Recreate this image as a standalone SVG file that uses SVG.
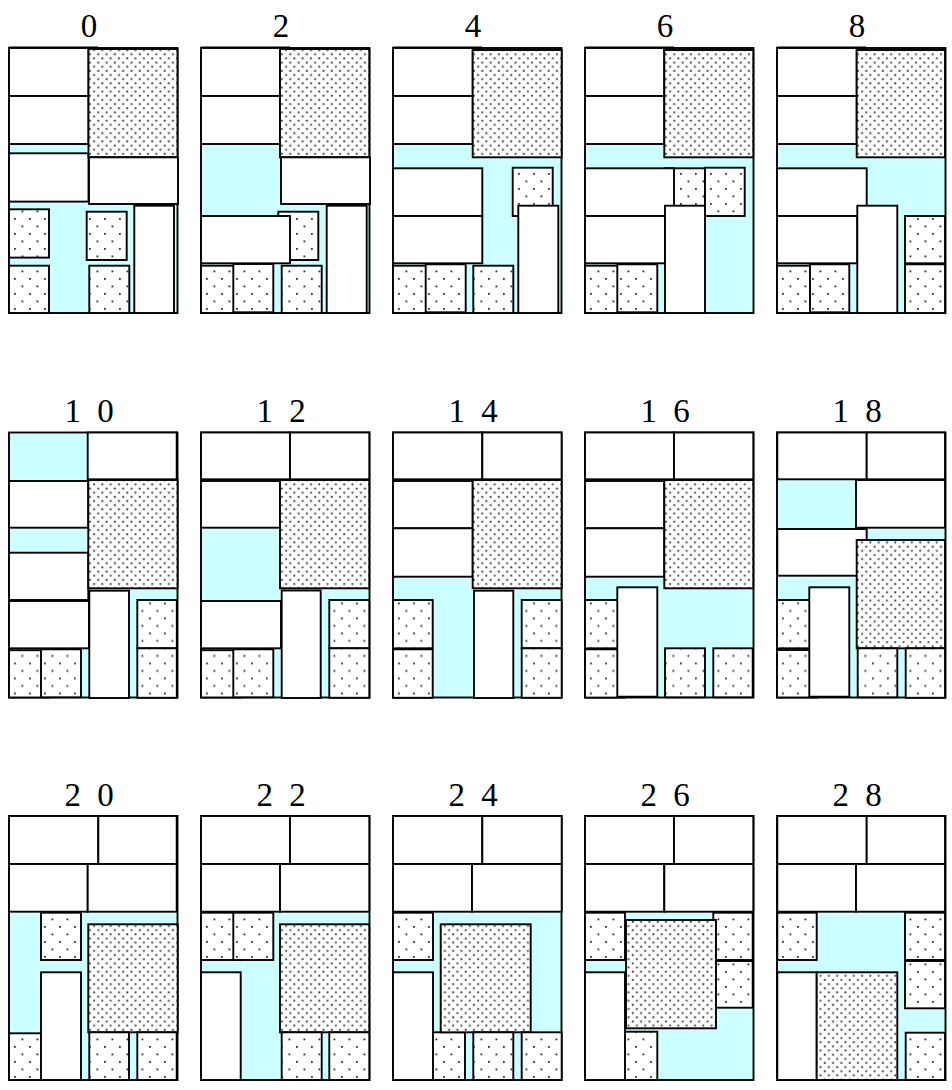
<svg xmlns="http://www.w3.org/2000/svg" width="952" height="1090" viewBox="0 0 952 1090">
<defs>
<pattern id="dp" patternUnits="userSpaceOnUse" width="8.3" height="8.3">
<rect width="8.3" height="8.3" fill="#fff"/>
<rect x="1.2" y="1.2" width="1.8" height="1.8" fill="#333"/>
<rect x="5.35" y="5.35" width="1.8" height="1.8" fill="#333"/>
</pattern>
<pattern id="sp" patternUnits="userSpaceOnUse" width="15" height="15">
<rect width="15" height="15" fill="#fff"/>
<rect x="5" y="5" width="1.8" height="1.8" fill="#333"/>
<rect x="12.5" y="12.5" width="1.8" height="1.8" fill="#333"/>
</pattern>
<style>
.bg{fill:#ccffff;stroke:#000;stroke-width:1.9}
.w{fill:#fff;stroke:#000;stroke-width:1.9}
.s{fill:url(#sp);stroke:#000;stroke-width:1.9}
.b{fill:url(#dp);stroke:#000;stroke-width:1.9}
.tk{fill:none;stroke:#000;stroke-width:2.2}
.lbl{font-size:33px;letter-spacing:4px;text-anchor:middle;fill:#000}
</style>
</defs>
<rect width="952" height="1090" fill="#fff"/>
<g id="labels" font-family="'Liberation Serif', 'Times New Roman', serif">
<text class="lbl" x="91" y="37">0</text>
<text class="lbl" x="283" y="37">2</text>
<text class="lbl" x="475" y="37">4</text>
<text class="lbl" x="667" y="37">6</text>
<text class="lbl" x="859" y="37">8</text>
<text class="lbl" x="91" y="421.5">1 0</text>
<text class="lbl" x="283" y="421.5">1 2</text>
<text class="lbl" x="475" y="421.5">1 4</text>
<text class="lbl" x="667" y="421.5">1 6</text>
<text class="lbl" x="859" y="421.5">1 8</text>
<text class="lbl" x="91" y="805.5">2 0</text>
<text class="lbl" x="283" y="805.5">2 2</text>
<text class="lbl" x="475" y="805.5">2 4</text>
<text class="lbl" x="667" y="805.5">2 6</text>
<text class="lbl" x="859" y="805.5">2 8</text>
</g>
<g id="connectors"></g>

<g id="panel-0" transform="translate(9,48)">
<rect class="bg" width="168.5" height="265"/>
<path class="tk" d="M0,-0.3H89"/>
<rect class="w" x="0" y="0" width="79.5" height="48"/>
<rect class="w" x="0" y="48" width="79.5" height="48"/>
<rect class="w" x="0" y="105.3" width="79.5" height="48.3"/>
<rect class="b" x="79.5" y="1" width="89" height="108.3"/>
<rect class="w" x="80" y="109.3" width="89" height="46.7"/>
<rect class="s" x="0" y="161.3" width="40" height="48.3"/>
<rect class="s" x="0" y="217.7" width="40" height="47.3"/>
<rect class="s" x="77.7" y="163.7" width="40" height="48.3"/>
<rect class="s" x="80.3" y="217.7" width="40" height="47.3"/>
<rect class="w" x="125.3" y="157.7" width="39.7" height="107.3"/>
</g>

<g id="panel-2" transform="translate(201,48)">
<rect class="bg" width="168.5" height="265"/>
<path class="tk" d="M0,-0.3H89"/>
<rect class="w" x="0" y="0" width="79" height="48"/>
<rect class="w" x="0" y="48" width="79" height="48"/>
<rect class="b" x="79" y="1" width="89.3" height="108.3"/>
<rect class="w" x="80" y="109.3" width="89" height="46.7"/>
<rect class="s" x="77.3" y="163.7" width="40" height="48.3"/>
<rect class="w" x="0" y="168" width="89" height="47.3"/>
<rect class="s" x="0" y="217.7" width="40" height="47.3"/>
<rect class="s" x="32.3" y="216" width="40" height="48.3"/>
<rect class="s" x="80.7" y="217.7" width="40" height="47.3"/>
<rect class="w" x="125.7" y="157.7" width="40" height="107.3"/>
</g>

<g id="panel-4" transform="translate(393,48)">
<rect class="bg" width="168.5" height="265"/>
<path class="tk" d="M0,-0.3H89"/>
<rect class="w" x="0" y="0" width="79.7" height="48"/>
<rect class="w" x="0" y="48" width="79.7" height="48"/>
<rect class="b" x="79.7" y="2" width="89" height="107.3"/>
<rect class="w" x="0" y="120.3" width="89.3" height="47.7"/>
<rect class="w" x="0" y="168" width="89.3" height="47.3"/>
<rect class="s" x="119.7" y="119.7" width="40" height="48.3"/>
<rect class="w" x="125.3" y="157.7" width="40" height="107.3"/>
<rect class="s" x="0" y="217.7" width="40" height="47.3"/>
<rect class="s" x="32.7" y="216.3" width="40" height="48"/>
<rect class="s" x="80.3" y="217.7" width="40" height="47.3"/>
</g>

<g id="panel-6" transform="translate(585,48)">
<rect class="bg" width="168.5" height="265"/>
<path class="tk" d="M0,-0.3H89"/>
<rect class="w" x="0" y="0" width="79.3" height="48"/>
<rect class="w" x="0" y="48" width="79.3" height="48"/>
<rect class="b" x="79.3" y="2" width="89" height="107.3"/>
<rect class="s" x="80" y="120.3" width="40" height="48"/>
<rect class="w" x="0" y="120.3" width="89" height="47.7"/>
<rect class="w" x="0" y="168" width="80" height="47.3"/>
<rect class="s" x="120" y="119.7" width="39.7" height="48.3"/>
<rect class="w" x="80" y="157.7" width="40" height="107.3"/>
<rect class="s" x="0" y="217.7" width="40" height="47.3"/>
<rect class="s" x="32.3" y="216.3" width="40" height="48"/>
</g>

<g id="panel-8" transform="translate(777,48)">
<rect class="bg" width="168.5" height="265"/>
<path class="tk" d="M0,-0.3H89"/>
<rect class="w" x="0" y="0" width="79.7" height="48"/>
<rect class="w" x="0" y="48" width="79.7" height="48"/>
<rect class="b" x="79.7" y="2" width="88.3" height="107.3"/>
<rect class="w" x="0" y="120.3" width="89.7" height="47.7"/>
<rect class="w" x="0" y="168" width="80.3" height="47.3"/>
<rect class="w" x="80.3" y="157.7" width="40" height="107.3"/>
<rect class="s" x="128" y="168" width="40" height="47.3"/>
<rect class="s" x="128" y="216.3" width="40" height="48.7"/>
<rect class="s" x="0" y="217.7" width="40" height="47.3"/>
<rect class="s" x="33" y="216.3" width="39.3" height="48"/>
</g>

<g id="panel-10" transform="translate(9,432.5)">
<rect class="bg" width="168.5" height="265"/>
<rect class="w" x="78.7" y="0" width="89" height="46.8"/>
<rect class="w" x="0" y="48.5" width="79.3" height="46.7"/>
<rect class="w" x="0" y="120.2" width="79.3" height="47.3"/>
<rect class="w" x="0" y="168.5" width="80" height="47.3"/>
<rect class="b" x="79.3" y="47.5" width="89.3" height="108.3"/>
<rect class="w" x="80.3" y="158.2" width="39.7" height="107.3"/>
<rect class="s" x="128.3" y="167.5" width="39.5" height="48.3"/>
<rect class="s" x="128.3" y="215.8" width="39.5" height="49.5"/>
<rect class="s" x="0" y="217.7" width="40" height="47.3"/>
<rect class="s" x="32" y="216.8" width="40" height="48"/>
</g>

<g id="panel-12" transform="translate(201,432.5)">
<rect class="bg" width="168.5" height="265"/>
<rect class="w" x="0" y="0" width="89" height="46.8"/>
<rect class="w" x="89" y="0" width="79.3" height="46.8"/>
<rect class="w" x="0" y="48.5" width="79" height="46.7"/>
<rect class="b" x="79" y="47.5" width="89.3" height="108.3"/>
<rect class="w" x="0" y="168.5" width="80" height="47.3"/>
<rect class="w" x="80.7" y="158" width="39" height="107.5"/>
<rect class="s" x="128.3" y="167.5" width="40" height="48.3"/>
<rect class="s" x="128.3" y="215.8" width="40" height="49.5"/>
<rect class="s" x="0" y="217.7" width="40" height="47.3"/>
<rect class="s" x="32.3" y="216.8" width="40" height="48"/>
</g>

<g id="panel-14" transform="translate(393,432.5)">
<rect class="bg" width="168.5" height="265"/>
<rect class="w" x="0" y="0" width="89.3" height="46.8"/>
<rect class="w" x="89.3" y="0" width="79.3" height="46.8"/>
<rect class="w" x="0" y="48.5" width="79.7" height="47.3"/>
<rect class="w" x="0" y="95.8" width="79.7" height="48.4"/>
<rect class="b" x="79.7" y="47.5" width="89" height="108.3"/>
<rect class="s" x="0" y="167.5" width="39.7" height="48.3"/>
<rect class="s" x="0" y="216.8" width="39.7" height="48.5"/>
<rect class="w" x="81" y="158.2" width="39.3" height="107.3"/>
<rect class="s" x="128.7" y="167.5" width="40" height="48.3"/>
<rect class="s" x="128.7" y="215.8" width="40" height="49.5"/>
</g>

<g id="panel-16" transform="translate(585,432.5)">
<rect class="bg" width="168.5" height="265"/>
<rect class="w" x="0" y="0" width="89" height="46.8"/>
<rect class="w" x="89" y="0" width="79.3" height="46.8"/>
<rect class="w" x="0" y="48.5" width="79.3" height="47.3"/>
<rect class="w" x="0" y="95.8" width="79.3" height="48.4"/>
<rect class="b" x="79.3" y="47.5" width="89" height="108.3"/>
<rect class="s" x="0" y="167.5" width="40" height="48.3"/>
<rect class="s" x="0" y="216.8" width="40" height="48.3"/>
<rect class="w" x="32.3" y="154.8" width="40" height="109.4"/>
<rect class="s" x="80" y="215.8" width="40" height="49"/>
<rect class="s" x="128.3" y="215.8" width="39.4" height="49"/>
</g>

<g id="panel-18" transform="translate(777,432.5)">
<rect class="bg" width="168.5" height="265"/>
<rect class="w" x="0.3" y="0" width="89.4" height="46.8"/>
<rect class="w" x="89.7" y="0" width="78.3" height="46.8"/>
<rect class="w" x="79" y="47.5" width="89" height="47.7"/>
<rect class="w" x="0.3" y="96.5" width="89.4" height="46.7"/>
<rect class="b" x="79.7" y="107.5" width="88.3" height="108.3"/>
<rect class="s" x="0" y="167.5" width="40" height="48.3"/>
<rect class="s" x="0" y="217.5" width="40" height="47.5"/>
<rect class="w" x="32.3" y="154.8" width="40" height="109.4"/>
<rect class="s" x="80.7" y="215.8" width="39.6" height="49"/>
<rect class="s" x="128.7" y="215.8" width="39.3" height="49.5"/>
</g>

<g id="panel-20" transform="translate(9,816)">
<rect class="bg" width="168.5" height="264"/>
<rect class="w" x="0" y="0" width="89.3" height="48"/>
<rect class="w" x="89.3" y="0" width="78.4" height="48"/>
<rect class="w" x="0" y="48" width="78.7" height="47.7"/>
<rect class="w" x="78.7" y="48" width="89" height="47.7"/>
<rect class="s" x="32" y="96.7" width="40" height="47.3"/>
<rect class="s" x="0" y="217.3" width="40" height="46.7"/>
<rect class="w" x="32" y="156.3" width="40" height="107.7"/>
<rect class="b" x="79.3" y="108.3" width="89.4" height="108"/>
<rect class="s" x="80.3" y="216.3" width="39.7" height="47.7"/>
<rect class="s" x="128.3" y="216.3" width="39.4" height="47.7"/>
</g>

<g id="panel-22" transform="translate(201,816)">
<rect class="bg" width="168.5" height="264"/>
<rect class="w" x="0" y="0" width="89" height="48"/>
<rect class="w" x="89" y="0" width="79.3" height="48"/>
<rect class="w" x="0" y="48" width="79" height="47.7"/>
<rect class="w" x="79" y="48" width="89.3" height="47.7"/>
<rect class="s" x="0" y="96.7" width="40" height="47.3"/>
<rect class="s" x="32.3" y="96.7" width="40" height="47.3"/>
<rect class="w" x="0" y="156.3" width="39.7" height="107.7"/>
<rect class="b" x="79" y="108.3" width="89.3" height="108"/>
<rect class="s" x="80.7" y="216.3" width="40" height="47.7"/>
<rect class="s" x="128.3" y="216.3" width="40" height="47.7"/>
</g>

<g id="panel-24" transform="translate(393,816)">
<rect class="bg" width="168.5" height="264"/>
<rect class="w" x="0" y="0" width="89.3" height="48"/>
<rect class="w" x="89.3" y="0" width="79.4" height="48"/>
<rect class="w" x="0" y="48" width="79" height="47.7"/>
<rect class="w" x="79" y="48" width="89.7" height="47.7"/>
<rect class="s" x="0" y="96.7" width="40" height="47.3"/>
<rect class="s" x="32" y="216.3" width="40" height="47.7"/>
<rect class="w" x="0" y="156.3" width="40" height="107.7"/>
<rect class="b" x="47.7" y="108.3" width="90" height="108"/>
<rect class="s" x="80.3" y="216.3" width="40" height="47.7"/>
<rect class="s" x="128.7" y="216.3" width="40" height="47.7"/>
</g>

<g id="panel-26" transform="translate(585,816)">
<rect class="bg" width="168.5" height="264"/>
<rect class="w" x="0" y="0" width="89" height="48"/>
<rect class="w" x="89" y="0" width="79.3" height="48"/>
<rect class="w" x="0" y="48" width="79.3" height="47.7"/>
<rect class="w" x="79.3" y="48" width="89" height="47.7"/>
<rect class="s" x="0" y="96.7" width="40" height="47.3"/>
<rect class="s" x="128.3" y="96.7" width="39.4" height="47.3"/>
<rect class="s" x="128.3" y="145" width="39.4" height="46.7"/>
<rect class="b" x="41" y="104" width="90" height="108.3"/>
<rect class="s" x="32.3" y="215.7" width="40" height="48.3"/>
<rect class="w" x="0" y="156.3" width="40" height="107.7"/>
</g>

<g id="panel-28" transform="translate(777,816)">
<rect class="bg" width="168.5" height="264"/>
<rect class="w" x="0.3" y="0" width="89.4" height="48"/>
<rect class="w" x="89.7" y="0" width="78.3" height="48"/>
<rect class="w" x="0.3" y="48" width="78.7" height="47.7"/>
<rect class="w" x="79" y="48" width="89" height="47.7"/>
<rect class="s" x="0.3" y="96.7" width="39.4" height="47.3"/>
<rect class="s" x="128" y="96.7" width="40" height="47.3"/>
<rect class="s" x="128" y="145" width="40" height="47.3"/>
<rect class="s" x="128.7" y="216.7" width="39.3" height="47.3"/>
<rect class="w" x="0.3" y="156.3" width="39.4" height="107.7"/>
<rect class="b" x="39.7" y="156.3" width="80.6" height="107.7"/>
</g>
</svg>
